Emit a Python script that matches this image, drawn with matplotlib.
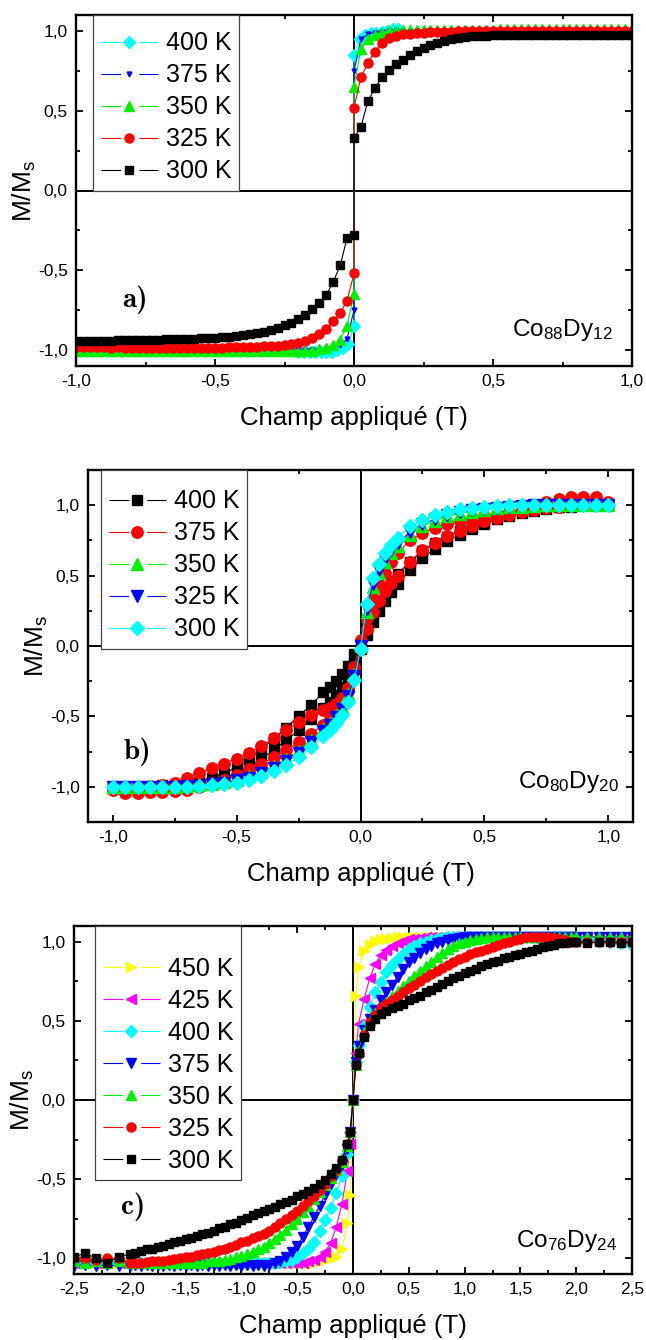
import matplotlib
matplotlib.use("Agg")
import matplotlib.pyplot as plt
from matplotlib.ticker import MultipleLocator, FuncFormatter
from matplotlib.legend_handler import HandlerLine2D

plt.rcParams['font.family'] = ['Liberation Sans', 'DejaVu Sans']
plt.rcParams['mathtext.default'] = 'regular'

# ---------------- a) Co88Dy12 ----------------
a_H = [-1.0, -0.975, -0.95, -0.925, -0.9, -0.875, -0.85, -0.825, -0.8, -0.775,
       -0.75, -0.725, -0.7, -0.675, -0.65, -0.625, -0.6, -0.575, -0.55, -0.525,
       -0.5, -0.475, -0.45, -0.425, -0.4, -0.375, -0.35, -0.325, -0.3, -0.275,
       -0.25, -0.225, -0.2, -0.175, -0.15, -0.125, -0.1, -0.075, -0.05, -0.025,
       0.0, 0.0,
       0.025, 0.05, 0.075, 0.1, 0.125, 0.15, 0.175, 0.2, 0.225, 0.25,
       0.275, 0.3, 0.325, 0.35, 0.375, 0.4, 0.425, 0.45, 0.475, 0.5,
       0.525, 0.55, 0.575, 0.6, 0.625, 0.65, 0.675, 0.7, 0.725, 0.75,
       0.775, 0.8, 0.825, 0.85, 0.875, 0.9, 0.925, 0.95, 0.975, 1.0]
a_M300 = ([-0.945, -0.945, -0.944, -0.943, -0.942, -0.941, -0.940, -0.939, -0.938, -0.937,
           -0.936, -0.935, -0.934, -0.933, -0.932, -0.931, -0.930, -0.928, -0.926, -0.924,
           -0.922, -0.920, -0.917, -0.913, -0.908, -0.902, -0.895, -0.885, -0.874, -0.861,
           -0.846, -0.828, -0.805, -0.778, -0.745, -0.705, -0.655, -0.575, -0.47, -0.30]
          + [-0.28, 0.33]
          + [0.40, 0.56, 0.64, 0.71, 0.755, 0.79, 0.82, 0.85, 0.875, 0.895,
             0.912, 0.927, 0.94, 0.95, 0.957, 0.962, 0.966, 0.969, 0.971, 0.972]
          + [0.973] * 5 + [0.975] * 15)
a_M325 = ([-0.98, -0.982, -0.983, -0.982, -0.984, -0.985, -0.984, -0.985, -0.986, -0.985,
           -0.986, -0.986, -0.987, -0.986, -0.987, -0.987, -0.987, -0.987, -0.986, -0.986,
           -0.985, -0.985, -0.984, -0.983, -0.982, -0.981, -0.979, -0.977, -0.975, -0.972,
           -0.968, -0.963, -0.955, -0.943, -0.925, -0.90, -0.865, -0.82, -0.77, -0.69]
          + [-0.52, 0.52]
          + [0.71, 0.80, 0.87, 0.925, 0.955, 0.97, 0.978, 0.983, 0.987, 0.99,
             0.992, 0.994, 0.995, 0.996, 0.997, 0.998, 0.999, 1.0, 1.0, 1.0]
          + [1.0] * 20)
a_M350 = ([-1.005] * 35 + [-0.995, -0.985, -0.97, -0.935, -0.85]
          + [-0.65, 0.65]
          + [0.89, 0.95, 0.975, 0.99, 0.997, 1.0] + [1.005] * 14 + [1.01] * 10 + [1.015] * 10)
a_H375 = [-0.5, -0.475, -0.45, -0.425, -0.4, -0.375, -0.35, -0.325, -0.3, -0.275,
          -0.25, -0.225, -0.2, -0.175, -0.15, -0.125, -0.1, -0.075, -0.05, -0.025,
          0.0, 0.0,
          0.025, 0.05, 0.075, 0.1, 0.125, 0.15, 0.175, 0.2, 0.225, 0.25, 0.275, 0.3]
a_M375 = ([-1.0] * 15 + [-0.998, -0.993, -0.985, -0.97, -0.93]
          + [-0.75, 0.75]
          + [0.95, 0.98, 0.99, 0.995] + [1.0] * 8)
a_H400 = [-0.2, -0.18, -0.16, -0.14, -0.12, -0.1, -0.08, -0.06, -0.04, -0.02,
          0.0, 0.0, 0.02, 0.04, 0.06, 0.08, 0.1, 0.12, 0.14, 0.16]
a_M400 = ([-1.01] * 7 + [-1.0, -0.99, -0.96] + [-0.85, 0.85]
          + [0.95, 0.975, 0.985, 0.99, 0.995, 1.0, 1.01, 1.015])

# ---------------- b) Co80Dy20 ----------------
b_H = [-1.0, -0.95, -0.9, -0.85, -0.8, -0.75, -0.7, -0.65, -0.6, -0.55,
       -0.5, -0.45, -0.4, -0.35, -0.3, -0.25, -0.2, -0.15,
       -0.125, -0.1, -0.075, -0.05, -0.025, 0.0, 0.025, 0.05, 0.075, 0.1, 0.125,
       0.15, 0.2, 0.25, 0.3, 0.35, 0.4, 0.45, 0.5, 0.55, 0.6,
       0.65, 0.7, 0.75, 0.8, 0.85, 0.9, 0.95, 1.0]
b_M300 = ([-1.0] * 7 + [-0.995, -0.99, -0.98, -0.97, -0.95, -0.925, -0.89, -0.845, -0.79, -0.72, -0.64]
          + [-0.60, -0.55, -0.49, -0.40, -0.24, -0.02, 0.30, 0.48, 0.58, 0.66, 0.72]
          + [0.77, 0.85, 0.895, 0.93, 0.953, 0.97, 0.982, 0.99, 0.995] + [1.0] * 9)
b_M325 = ([-1.0] * 6 + [-0.997, -0.992, -0.983, -0.97, -0.955, -0.935, -0.905, -0.865, -0.815, -0.76, -0.685, -0.605]
          + [-0.56, -0.505, -0.445, -0.355, -0.21, 0.0, 0.26, 0.44, 0.54, 0.62, 0.68]
          + [0.73, 0.81, 0.865, 0.90, 0.93, 0.95, 0.963, 0.975, 0.983, 0.99, 0.995] + [1.0] * 7)
b_M350 = ([-1.0] * 6 + [-0.995, -0.99, -0.98, -0.965, -0.95, -0.925, -0.895, -0.855, -0.80, -0.745, -0.67, -0.59]
          + [-0.545, -0.49, -0.43, -0.34, -0.2, 0.0, 0.24, 0.42, 0.52, 0.60, 0.66]
          + [0.71, 0.79, 0.85, 0.89, 0.92, 0.94, 0.955, 0.968, 0.978, 0.985, 0.99, 0.995] + [1.0] * 6)
# two branches (field decreasing / increasing) for the open loops
b_M375_dn = ([-1.0, -1.0, -1.0, -0.995, -0.985, -0.97, -0.935, -0.90, -0.865, -0.835,
              -0.80, -0.76, -0.71, -0.655, -0.60, -0.54, -0.49, -0.455]
             + [-0.44, -0.41, -0.37, -0.30, -0.15, 0.04, 0.20, 0.34, 0.44, 0.52, 0.60]
             + [0.66, 0.75, 0.80, 0.84, 0.87, 0.89, 0.91, 0.925, 0.94, 0.95,
                0.965, 0.99, 1.02, 1.045, 1.06, 1.06, 1.055, 1.02])
b_M375_up = ([-1.02, -1.045, -1.045, -1.04, -1.035, -1.03, -1.02, -1.0, -0.975, -0.95,
              -0.915, -0.875, -0.835, -0.79, -0.74, -0.685, -0.625, -0.56]
             + [-0.52, -0.47, -0.41, -0.32, -0.18, -0.02, 0.12, 0.24, 0.32, 0.39, 0.45]
             + [0.50, 0.60, 0.68, 0.735, 0.78, 0.82, 0.855, 0.885, 0.91, 0.93,
                0.95, 0.965, 0.98, 0.99, 1.0, 1.0, 1.0, 1.0])
b_M400_dn = ([-1.0, -1.0, -1.0, -1.0, -0.99, -0.985, -0.975, -0.96, -0.94, -0.905,
              -0.86, -0.80, -0.73, -0.66, -0.58, -0.50, -0.42, -0.33]
             + [-0.29, -0.25, -0.20, -0.14, -0.06, 0.02, 0.13, 0.23, 0.32, 0.40, 0.46]
             + [0.51, 0.60, 0.675, 0.73, 0.775, 0.815, 0.855, 0.885, 0.91, 0.935,
                0.955, 0.97, 0.98, 0.99, 0.995, 1.0, 1.0, 1.0])
b_M400_up = ([-1.0, -1.0, -1.0, -1.0, -1.0, -0.995, -0.99, -0.98, -0.965, -0.94,
              -0.905, -0.86, -0.80, -0.74, -0.67, -0.60, -0.52, -0.44]
             + [-0.395, -0.35, -0.29, -0.22, -0.12, -0.02, 0.08, 0.17, 0.25, 0.32, 0.385]
             + [0.44, 0.54, 0.625, 0.69, 0.745, 0.79, 0.83, 0.87, 0.90, 0.925,
                0.945, 0.96, 0.975, 0.985, 0.99, 1.0, 1.0, 1.0])

# ---------------- c) Co76Dy24 ----------------
c_H = ([-2.5, -2.4, -2.3, -2.2, -2.1]
       + [-2.0, -1.95, -1.9, -1.85, -1.8, -1.75, -1.7, -1.65, -1.6, -1.55,
          -1.5, -1.45, -1.4, -1.35, -1.3, -1.25, -1.2, -1.15, -1.1, -1.05,
          -1.0, -0.95, -0.9, -0.85, -0.8, -0.75, -0.7, -0.65, -0.6, -0.55,
          -0.5, -0.45, -0.4, -0.35, -0.3, -0.25, -0.2, -0.15, -0.1, -0.05]
       + [-0.025, 0.0, 0.025]
       + [0.05, 0.1, 0.15, 0.2, 0.25, 0.3, 0.35, 0.4, 0.45, 0.5,
          0.55, 0.6, 0.65, 0.7, 0.75, 0.8, 0.85, 0.9, 0.95, 1.0,
          1.05, 1.1, 1.15, 1.2, 1.25, 1.3, 1.35, 1.4, 1.45, 1.5,
          1.55, 1.6, 1.65, 1.7, 1.75, 1.8, 1.85, 1.9, 1.95, 2.0]
       + [2.1, 2.2, 2.3, 2.4, 2.5])
c_M300 = ([-0.99, -0.97, -1.0, -1.03, -0.99]
          + [-0.975, -0.965, -0.955, -0.945, -0.94, -0.93, -0.92, -0.91, -0.90, -0.89,
             -0.88, -0.87, -0.86, -0.85, -0.84, -0.825, -0.81, -0.80, -0.785, -0.775,
             -0.76, -0.745, -0.73, -0.715, -0.70, -0.69, -0.675, -0.66, -0.645, -0.63,
             -0.61, -0.595, -0.575, -0.555, -0.53, -0.505, -0.47, -0.43, -0.38, -0.28]
          + [-0.2, 0.0, 0.22]
          + [0.30, 0.40, 0.47, 0.515, 0.545, 0.565, 0.58, 0.595, 0.61, 0.63,
             0.645, 0.66, 0.68, 0.695, 0.715, 0.735, 0.75, 0.77, 0.785, 0.80,
             0.815, 0.83, 0.845, 0.86, 0.87, 0.88, 0.895, 0.905, 0.915, 0.925,
             0.935, 0.945, 0.955, 0.965, 0.975, 0.98, 0.99, 0.995, 1.0, 1.0]
          + [0.99, 1.0, 1.0, 0.99, 1.0])
c_M325 = ([-1.0, -1.0, -1.01, -1.0, -1.0]
          + [-1.03, -1.03, -1.03, -1.025, -1.02, -1.02, -1.015, -1.01, -1.005, -1.0,
             -0.995, -0.99, -0.98, -0.975, -0.965, -0.96, -0.95, -0.94, -0.93, -0.915,
             -0.90, -0.89, -0.875, -0.86, -0.845, -0.825, -0.805, -0.78, -0.755, -0.73,
             -0.70, -0.67, -0.64, -0.605, -0.57, -0.53, -0.48, -0.44, -0.38, -0.28]
          + [-0.2, 0.0, 0.22]
          + [0.30, 0.41, 0.49, 0.54, 0.58, 0.61, 0.635, 0.66, 0.68, 0.705,
             0.73, 0.75, 0.775, 0.795, 0.815, 0.835, 0.855, 0.875, 0.89, 0.905,
             0.92, 0.935, 0.945, 0.955, 0.97, 0.98, 0.99, 1.0, 1.01, 1.02,
             1.03, 1.03, 1.03, 1.03, 1.03, 1.025, 1.02, 1.01, 1.0, 1.0]
          + [1.0] * 5)
c_M350 = ([-1.02, -1.03, -1.02, -1.03, -1.02]
          + [-1.03] * 14
          + [-1.02, -1.02, -1.015, -1.01, -1.005, -0.995, -0.985, -0.975, -0.96, -0.945,
             -0.93, -0.905, -0.88, -0.855, -0.82, -0.785, -0.75, -0.71, -0.67, -0.625,
             -0.58, -0.535, -0.49, -0.445, -0.39, -0.29]
          + [-0.2, 0.0, 0.22]
          + [0.31, 0.43, 0.50, 0.55, 0.585, 0.62, 0.655, 0.69, 0.72, 0.75,
             0.785, 0.815, 0.845, 0.875, 0.905, 0.93, 0.955, 0.975, 0.99, 1.0,
             1.01, 1.02, 1.025] + [1.03] * 17
          + [1.03] * 5)
c_M375 = ([-1.05, -1.04, -1.05, -1.04, -1.05]
          + [-1.05, -1.045] * 12 + [-1.05]
          + [-1.04, -1.03, -1.015, -0.99, -0.96, -0.92, -0.865, -0.80, -0.74, -0.67,
             -0.60, -0.53, -0.47, -0.41, -0.31]
          + [-0.2, 0.0, 0.24]
          + [0.34, 0.44, 0.51, 0.57, 0.63, 0.68, 0.73, 0.78, 0.83, 0.87,
             0.90, 0.93, 0.955, 0.975, 0.99, 1.0, 1.01, 1.02, 1.025] + [1.03] * 21
          + [1.03] * 5)
c_M400 = ([-1.03] * 5
          + [-1.03] * 27
          + [-1.025, -1.02, -1.01, -0.995, -0.97, -0.94, -0.895, -0.83, -0.76, -0.68,
             -0.59, -0.48, -0.34]
          + [-0.2, 0.0, 0.24]
          + [0.35, 0.47, 0.59, 0.68, 0.745, 0.81, 0.855, 0.89, 0.925, 0.955,
             0.975, 0.99, 1.0, 1.01, 1.02, 1.025] + [1.03] * 24
          + [1.02, 1.01, 1.0, 0.99, 0.98])
c_M425 = ([-1.03] * 5
          + [-1.03] * 32
          + [-1.02, -1.01, -0.99, -0.96, -0.905, -0.80, -0.66, -0.45]
          + [-0.28, 0.0, 0.30]
          + [0.48, 0.64, 0.77, 0.86, 0.915, 0.95, 0.975, 0.995, 1.005, 1.015,
             1.02, 1.025] + [1.03] * 28
          + [1.03] * 5)
c_M450 = ([-1.03] * 5
          + [-1.03] * 34
          + [-1.02, -1.01, -1.0, -0.99, -0.94, -0.78]
          + [-0.6, 0.0, 0.66]
          + [0.84, 0.94, 0.98, 1.005, 1.015, 1.02, 1.025] + [1.03] * 33
          + [1.03] * 5)

# ---------------- drawing ----------------
fig = plt.figure(figsize=(6.46, 13.4), dpi=100)
W, H = 646.0, 1340.0


def add_ax(x0, y0, x1, y1):
    return fig.add_axes([x0 / W, (H - y1) / H, (x1 - x0) / W, (y1 - y0) / H])


comma = FuncFormatter(lambda v, p: ('%.1f' % v).replace('.', ','))


def style(ax, xlim, ylim, major_x):
    ax.set_xlim(*xlim)
    ax.set_ylim(*ylim)
    ax.xaxis.set_major_locator(MultipleLocator(major_x))
    ax.xaxis.set_minor_locator(MultipleLocator(major_x / 2))
    ax.yaxis.set_major_locator(MultipleLocator(0.5))
    ax.yaxis.set_minor_locator(MultipleLocator(0.25))
    ax.xaxis.set_major_formatter(comma)
    ax.yaxis.set_major_formatter(comma)
    ax.tick_params(which='both', direction='in', top=True, right=True, width=1.3,
                   labelsize=12.5, pad=6)
    ax.tick_params(which='major', length=5)
    ax.tick_params(which='minor', length=3)
    for s in ax.spines.values():
        s.set_linewidth(1.7)
    ax.axhline(0, color='k', lw=1.4, zorder=1)
    ax.axvline(0, color='k', lw=1.4, zorder=1)
    ax.set_xlabel('Champ appliqué (T)', fontsize=18.5, labelpad=12)
    ax.set_ylabel('M/M$_s$', fontsize=19, labelpad=0)


# Origin-like legend handle: line - gap - marker - gap - line
HL = 2.3
FS = 18


def gap_line(legline, orig):
    legline.update_from(orig)
    lw = orig.get_linewidth()
    total = HL * FS
    on = total / 2 - 6.5
    legline.set_dashes([on / lw, (total - 2 * on) / lw])


def legend(ax, x, pad_fs):
    leg = ax.legend(loc='upper left', bbox_to_anchor=(x, 1.0), borderaxespad=0,
                    fontsize=FS, frameon=True, fancybox=False, framealpha=1,
                    edgecolor='#444444', handlelength=HL, handletextpad=0.3,
                    labelspacing=0.32, borderpad=0.3, title=' ', title_fontsize=pad_fs,
                    handler_map={matplotlib.lines.Line2D: HandlerLine2D(update_func=gap_line)})
    leg.get_frame().set_linewidth(0.9)
    leg.set_zorder(10)


def panel_tag(ax, tag, x, y):
    ax.text(x, y, tag, transform=ax.transAxes, fontsize=21, family='cmb10',
            ha='center', va='center')


# panel a
ax = add_ax(76, 15, 632, 366)
style(ax, (-1.0, 1.0), (-1.1, 1.1), 0.5)
ax.plot(a_H400, a_M400, '-', color='cyan', marker='D', ms=6, lw=0.8, label='400 K', zorder=2)
ax.plot(a_H375, a_M375, '-', color='blue', marker='v', ms=3.5, lw=0.8, label='375 K', zorder=2)
ax.plot(a_H, a_M350, '-', color='#00ee00', marker='^', ms=7, lw=0.8, label='350 K', zorder=2)
ax.plot(a_H, a_M325, '-', color='red', marker='o', ms=6.5, lw=0.8, label='325 K', zorder=2)
ax.plot(a_H, a_M300, '-', color='black', marker='s', ms=6.2, lw=0.8, label='300 K', zorder=2)
legend(ax, 17 / 556, 1)
panel_tag(ax, 'a)', 0.106, 0.19)
ax.text(0.966, 0.085, 'Co$_{88}$Dy$_{12}$', transform=ax.transAxes, fontsize=17.5,
        ha='right', va='baseline')

# panel b
ax = add_ax(88, 470, 633, 822)
style(ax, (-1.1, 1.1), (-1.25, 1.25), 0.5)
ax.plot(b_H, b_M400_dn, '-', color='black', marker='s', ms=7.8, lw=0.8, label='400 K', zorder=2)
ax.plot(b_H, b_M400_up, '-', color='black', marker='s', ms=7.8, lw=0.8, zorder=2)
ax.plot(b_H, b_M375_dn, '-', color='red', marker='o', ms=8.2, lw=0.8, label='375 K', zorder=2)
ax.plot(b_H, b_M375_up, '-', color='red', marker='o', ms=8.2, lw=0.8, zorder=2)
ax.plot(b_H, b_M350, '-', color='#00ee00', marker='^', ms=8.5, lw=0.8, label='350 K', zorder=2)
ax.plot(b_H, b_M325, '-', color='blue', marker='v', ms=8.5, lw=0.8, label='325 K', zorder=2)
ax.plot(b_H, b_M300, '-', color='cyan', marker='D', ms=7.5, lw=0.8, label='300 K', zorder=2)
legend(ax, 13 / 545, 3)
panel_tag(ax, 'b)', 0.09, 0.2)
ax.text(0.974, 0.097, 'Co$_{80}$Dy$_{20}$', transform=ax.transAxes, fontsize=17.5,
        ha='right', va='baseline')

# panel c
ax = add_ax(74, 926, 632, 1274)
style(ax, (-2.5, 2.5), (-1.1, 1.1), 0.5)
ax.xaxis.set_minor_locator(MultipleLocator(0.25))
ax.plot(c_H, c_M450, '-', color='yellow', marker='>', ms=6.5, lw=0.8, label='450 K', zorder=2)
ax.plot(c_H, c_M425, '-', color='magenta', marker='<', ms=6.5, lw=0.8, label='425 K', zorder=2)
ax.plot(c_H, c_M400, '-', color='cyan', marker='D', ms=6, lw=0.8, label='400 K', zorder=2)
ax.plot(c_H, c_M375, '-', color='blue', marker='v', ms=6.5, lw=0.8, label='375 K', zorder=2)
ax.plot(c_H, c_M350, '-', color='#00ee00', marker='^', ms=6.5, lw=0.8, label='350 K', zorder=2)
ax.plot(c_H, c_M325, '-', color='red', marker='o', ms=6.5, lw=0.8, label='325 K', zorder=2)
ax.plot(c_H, c_M300, '-', color='black', marker='s', ms=6, lw=0.8, label='300 K', zorder=2)
legend(ax, 21 / 558, 11.5)
panel_tag(ax, 'c)', 0.106, 0.193)
ax.text(0.973, 0.078, 'Co$_{76}$Dy$_{24}$', transform=ax.transAxes, fontsize=17.5,
        ha='right', va='baseline')

fig.savefig('out.png', dpi=100)
